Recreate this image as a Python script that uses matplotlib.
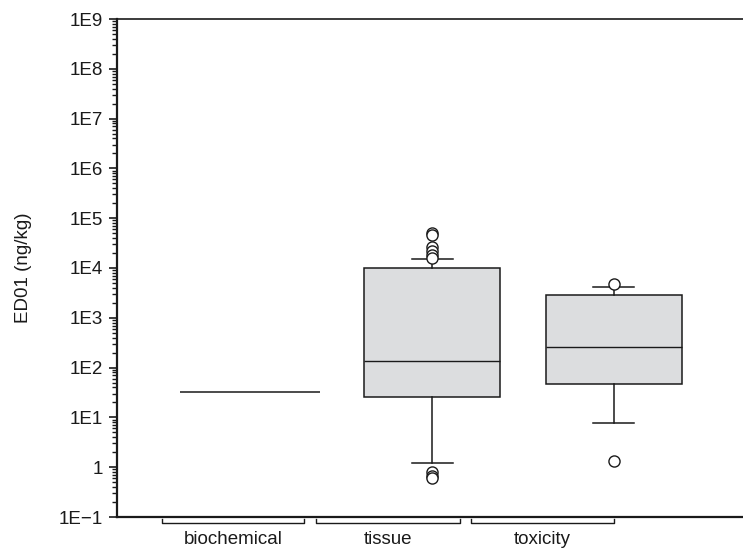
import matplotlib
matplotlib.use("Agg")
import matplotlib.pyplot as plt
from matplotlib.ticker import LogLocator, FixedLocator, NullFormatter
import matplotlib.transforms as mtransforms

plt.rcParams['font.family'] = ['Liberation Sans', 'DejaVu Sans']

# Box summaries of ED01 (ng/kg) per endpoint class
groups = ["biochemical", "tissue", "toxicity"]
q1 = [31.9, 25.3, 46.9]
medians = [31.9, 134.0, 255.0]
q3 = [31.9, 10100.0, 2870.0]
whisker_low = [31.9, 1.21, 7.6]
whisker_high = [31.9, 14900.0, 4210.0]
outliers = [
    [],
    [49700.0, 46000.0, 26800.0, 22300.0, 18200.0, 15800.0, 0.81, 0.68, 0.60],
    [4710.0, 1.33],
]

y_ticks = [1e-1, 1, 1e1, 1e2, 1e3, 1e4, 1e5, 1e6, 1e7, 1e8, 1e9]
y_tick_labels = ["1E\u22121", "1", "1E1", "1E2", "1E3", "1E4", "1E5",
                 "1E6", "1E7", "1E8", "1E9"]

fig = plt.figure(figsize=(7.43, 5.51), dpi=100)
W, H = 743, 551
ax = fig.add_axes([117 / W, 1 - 517 / H, (743 - 117) / W, (517 - 19) / H])

stats = []
for i, g in enumerate(groups):
    stats.append(dict(label=g, med=medians[i], q1=q1[i], q3=q3[i],
                      whislo=whisker_low[i], whishi=whisker_high[i],
                      fliers=outliers[i]))

box_pos = [1, 2, 3]
ink = "#1a1a1a"
has_spread = [q3[i] > q1[i] for i in range(len(groups))]

# Collapsed distribution drawn as a single median line
for i, g in enumerate(groups):
    if not has_spread[i]:
        ax.plot([box_pos[i] - 0.385, box_pos[i] + 0.385], [medians[i]] * 2,
                color=ink, lw=1.1, solid_capstyle='butt')

idx = [i for i in range(len(groups)) if has_spread[i]]
ax.bxp([stats[i] for i in idx], positions=[box_pos[i] for i in idx],
       widths=0.75, capwidths=0.225, patch_artist=True, showfliers=True,
       boxprops=dict(facecolor="#dcdddf", edgecolor=ink, linewidth=1.1),
       medianprops=dict(color=ink, linewidth=1.0),
       whiskerprops=dict(color=ink, linewidth=1.1),
       capprops=dict(color=ink, linewidth=1.1),
       flierprops=dict(marker='o', markerfacecolor='white', markeredgecolor=ink,
                       markersize=8, markeredgewidth=1.0))

ax.set_yscale('log')
ax.set_ylim(1e-1, 1e9)
ax.set_xlim(0.267, 3.71)

ax.yaxis.set_major_locator(FixedLocator(y_ticks))
ax.set_yticklabels(y_tick_labels)
ax.yaxis.set_minor_locator(LogLocator(base=10, subs=range(2, 10), numticks=50))
ax.yaxis.set_minor_formatter(NullFormatter())
ax.tick_params(axis='y', which='major', direction='out', length=6, width=1.2,
               labelsize=13.5, color=ink, labelcolor=ink, pad=4)
ax.tick_params(axis='y', which='minor', direction='out', length=3.5, width=1.0,
               color=ink)
ax.set_xticks([])

ax.spines['right'].set_visible(False)
ax.spines['left'].set_linewidth(1.6)
ax.spines['bottom'].set_linewidth(1.6)
ax.spines['top'].set_linewidth(1.2)
for s in ax.spines.values():
    s.set_color(ink)

ax.set_ylabel("ED01 (ng/kg)", fontsize=13.5, color=ink, labelpad=19)

# Category brackets and labels under the axis
trans = mtransforms.blended_transform_factory(ax.transData, ax.transAxes)
bracket_spans = [(0.515, 1.298), (1.364, 2.152), (2.212, 3.0)]
y_hi, y_lo = -0.005, -0.012
for (a, b), g in zip(bracket_spans, groups):
    ax.plot([a, a, b, b], [y_hi, y_lo, y_lo, y_hi], transform=trans,
            color=ink, lw=1.0, clip_on=False)
    ax.text((a + b) / 2, -0.046, g, transform=trans, ha='center', va='center',
            fontsize=13.5, color=ink)

fig.savefig("out.png", dpi=100)
